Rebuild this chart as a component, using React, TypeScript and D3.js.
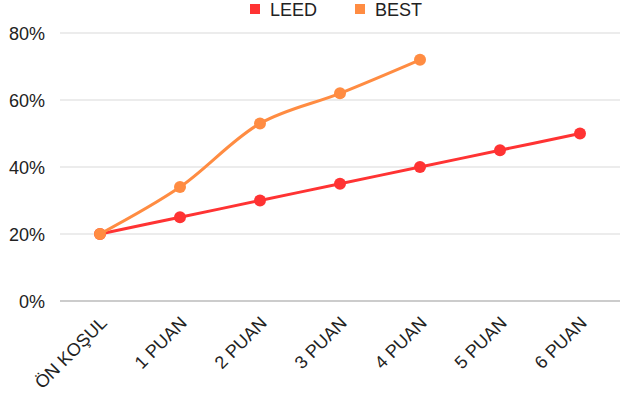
import React from "react";
import * as d3 from "d3";

const categories = ["ÖN KOŞUL", "1 PUAN", "2 PUAN", "3 PUAN", "4 PUAN", "5 PUAN", "6 PUAN"];
const leedValues = [20, 25, 30, 35, 40, 45, 50];
const bestValues = [20, 34, 53, 62, 72];
const yTicks = [0, 20, 40, 60, 80];
const seriesNames = ["LEED", "BEST"];
const seriesColors = ["#ff3333", "#ff8c42"];

const W = 626, H = 396;
const left = 60, right = 620, top = 33, bottom = 301;

export default function App() {
  const x = d3.scalePoint<string>().domain(categories).range([left, right]).padding(0.5);
  const y = d3.scaleLinear().domain([0, 80]).range([bottom, top]);
  const line = d3
    .line<number>()
    .x((_, i) => x(categories[i]) as number)
    .y((d) => y(d))
    .curve(d3.curveCatmullRom.alpha(0.5));
  const series = [leedValues, bestValues];
  const font = "'Liberation Sans', Arial, sans-serif";
  return (
    <svg width={W} height={H} style={{ position: "absolute", left: 0, top: 0 }} fontFamily={font}>
      <rect width={W} height={H} fill="#fff" />
      {yTicks.map((t) => (
        <g key={t}>
          <line x1={left} x2={right} y1={y(t)} y2={y(t)} stroke={t === 0 ? "#999" : "#d9d9d9"} strokeWidth={1} />
          <text x={45} y={y(t) + 6.5} textAnchor="end" fontSize={18} fill="#222">
            {t}%
          </text>
        </g>
      ))}
      {categories.map((c) => {
        const cx = (x(c) as number) + 8;
        const cy = 324;
        return (
          <text key={c} x={cx} y={cy} textAnchor="end" fontSize={18} fill="#222" transform={`rotate(-45 ${cx} ${cy})`}>
            {c}
          </text>
        );
      })}
      {series.map((vals, s) => (
        <g key={s}>
          <path d={line(vals) || ""} fill="none" stroke={seriesColors[s]} strokeWidth={3} />
          {vals.map((v, i) => (
            <circle key={i} cx={x(categories[i]) as number} cy={y(v)} r={6} fill={seriesColors[s]} />
          ))}
        </g>
      ))}
      {seriesNames.map((n, i) => {
        const lx = [250, 355][i];
        return (
          <g key={n}>
            <rect x={lx} y={4} width={10} height={10} fill={seriesColors[i]} />
            <text x={lx + 20} y={16} fontSize={18} fill="#222">
              {n}
            </text>
          </g>
        );
      })}
    </svg>
  );
}
